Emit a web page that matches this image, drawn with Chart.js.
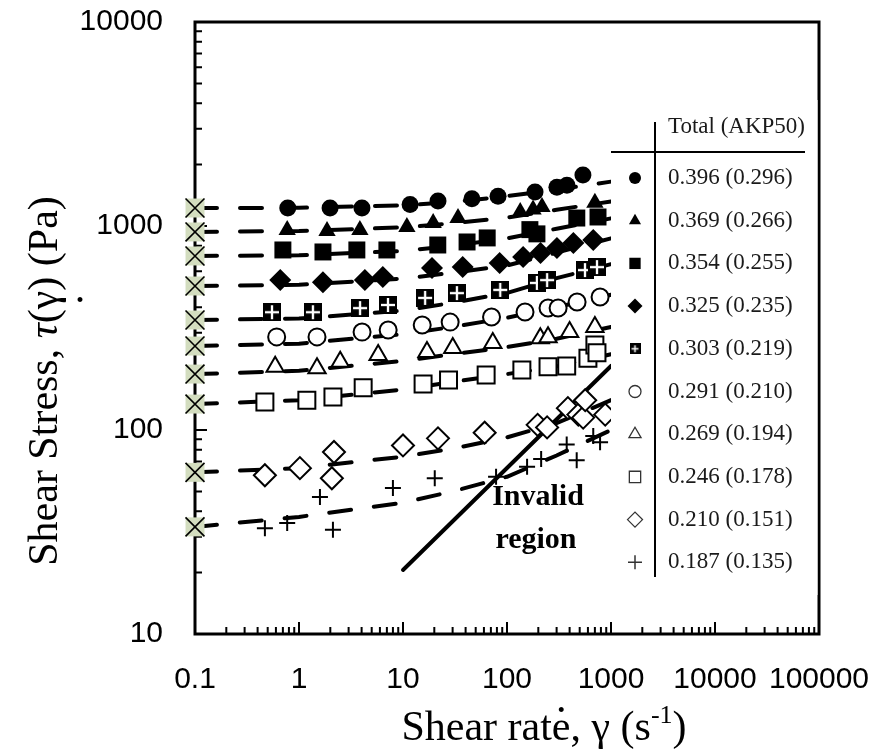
<!doctype html>
<html>
<head>
<title>Shear stress vs shear rate</title>
<script src="https://cdn.jsdelivr.net/npm/chart.js@4.4.0/dist/chart.umd.min.js"></script>
<style>
  html, body { margin: 0; padding: 0; background: #fff; }
</style>
</head>

<body>
<canvas id="chart" width="886" height="750"></canvas>

<script>
// axis ticks
const xTicks = [0.1, 1, 10, 100, 1000, 10000, 100000];
const yTicks = [10, 100, 1000, 10000];

// legend table text
const legendHeader = 'Total (AKP50)';
const seriesLabels = ['0.396 (0.296)', '0.369 (0.266)', '0.354 (0.255)', '0.325 (0.235)', '0.303 (0.219)',
                      '0.291 (0.210)', '0.269 (0.194)', '0.246 (0.178)', '0.210 (0.151)', '0.187 (0.135)'];

// yield stress of each suspension, plotted at the lowest shear rate
const zeroRate = 0.1;
const zeroShear = [1225, 935, 713, 508, 346, 258, 188, 134, 62, 33.5];

// measured points
const rate396 = [0.78, 1.99, 4.03, 11.7, 21.7, 46, 82, 186, 302, 377, 537];
const stress396 = [1225, 1225, 1225, 1275, 1325, 1360, 1400, 1468, 1549, 1585, 1778];
const rate369 = [0.77, 1.86, 3.85, 10.9, 19.5, 33.8, 134, 178, 217, 700];
const stress369 = [955, 945, 955, 988, 1035, 1095, 1172, 1205, 1240, 1300];
const rate354 = [0.70, 1.70, 3.6, 7.0, 21.6, 41.3, 64.5, 166, 194, 469, 750];
const stress354 = [763, 746, 763, 763, 807, 835, 874, 960, 915, 1094, 1107];
const rate325 = [0.66, 1.70, 4.3, 6.4, 19, 37.5, 85, 143, 210, 302, 435, 675];
const stress325 = [543, 530, 543, 562, 622, 630, 659, 705, 738, 780, 826, 853];
const rate303 = [0.55, 1.36, 3.86, 7.17, 16.3, 33, 86, 194, 243, 562, 733];
const stress303 = [378, 378, 396, 410, 444, 469, 486, 526, 543, 608, 629];
const rate291 = [0.61, 1.49, 4.04, 7.2, 15.3, 28.4, 71, 149, 248, 310, 472, 785];
const stress291 = [286, 286, 302, 309, 327, 338, 358, 379, 396, 396, 424, 449];
const rate269 = [0.59, 1.49, 2.49, 5.77, 17, 30.1, 73, 209, 248, 400, 700];
const stress269 = [204, 201, 216, 233, 241, 252, 267, 282, 285, 302, 320];
const rate246 = [0.47, 1.19, 2.12, 4.14, 15.6, 27.4, 63, 139, 248, 375, 600, 700, 733];
const stress246 = [137, 140, 145, 161, 168, 176, 186, 197, 204, 206, 225, 261, 239];
const rate210 = [0.47, 1.02, 2.17, 2.07, 10.0, 21.7, 61, 197, 243, 385, 485, 540, 565, 880];
const stress210 = [60, 65, 78, 58, 84, 91, 97, 106, 103, 128, 119, 115, 140, 119];
const rate187 = [0.47, 0.77, 1.59, 2.12, 8.0, 20.2, 78.5, 156, 213, 375, 468, 675, 785];
const stress187 = [33, 35, 47, 32.4, 52, 58, 59, 66, 72, 85, 71, 93.5, 87];

// model fits
const fitRate = [0.1, 1, 10, 30, 100, 300, 1000];
const fit396 = [1225, 1228, 1262, 1310, 1400, 1510, 1650];
const fit369 = [935, 945, 985, 1030, 1100, 1200, 1320];
const fit354 = [713, 718, 755, 800, 870, 970, 1090];
const fit325 = [508, 515, 552, 590, 640, 740, 870];
const fit303 = [346, 352, 385, 420, 470, 555, 650];
const fit291 = [258, 265, 295, 320, 355, 400, 460];
const fit269 = [188, 195, 218, 235, 255, 280, 320];
const fit246 = [134, 140, 158, 172, 188, 205, 235];
const fit210 = [62, 65, 74, 81, 92, 108, 140];
const fit187 = [33.5, 37.5, 44, 50, 59, 75, 100];

// limit of the measurement
const invalidRate = [10, 1000];
const invalidStress = [20.6, 206];

const series = [
    { rate: rate396, stress: stress396, fit: fit396 },
    { rate: rate369, stress: stress369, fit: fit369 },
    { rate: rate354, stress: stress354, fit: fit354 },
    { rate: rate325, stress: stress325, fit: fit325 },
    { rate: rate303, stress: stress303, fit: fit303 },
    { rate: rate291, stress: stress291, fit: fit291 },
    { rate: rate269, stress: stress269, fit: fit269 },
    { rate: rate246, stress: stress246, fit: fit246 },
    { rate: rate210, stress: stress210, fit: fit210 },
    { rate: rate187, stress: stress187, fit: fit187 }
];

// filled square split by a white cross
function gridSquare(size) {
    const c = document.createElement('canvas');
    c.width = size; c.height = size;
    const g = c.getContext('2d');
    g.fillStyle = '#000';
    g.fillRect(0, 0, size, size);
    g.fillStyle = '#fff';
    const w = Math.max(1.5, size * 0.13);
    g.fillRect(size / 2 - w / 2, 2, w, size - 4);
    g.fillRect(2, size / 2 - w / 2, size - 4, w);
    return c;
}

const markerStyles = [
    { pointStyle: 'circle', radius: 8.5, fill: '#000', border: 0 },
    { pointStyle: 'triangle', radius: 10, fill: '#000', border: 0 },
    { pointStyle: 'rect', radius: 12, fill: '#000', border: 0 },
    { pointStyle: 'rectRot', radius: 11, fill: '#000', border: 0 },
    { pointStyle: gridSquare(18), radius: 9, fill: '#000', border: 0 },
    { pointStyle: 'circle', radius: 8.5, fill: '#fff', border: 2 },
    { pointStyle: 'triangle', radius: 10, fill: '#fff', border: 2 },
    { pointStyle: 'rect', radius: 12, fill: '#fff', border: 2 },
    { pointStyle: 'rectRot', radius: 11, fill: '#fff', border: 2 },
    { pointStyle: 'cross', radius: 8, fill: '#fff', border: 2 }
];
const legendStyles = [
    { pointStyle: 'circle', radius: 6, border: 0 },
    { pointStyle: 'triangle', radius: 7, border: 0 },
    { pointStyle: 'rect', radius: 8, border: 0 },
    { pointStyle: 'rectRot', radius: 7.5, border: 0 },
    { pointStyle: gridSquare(11), radius: 6, border: 0 },
    { pointStyle: 'circle', radius: 6, border: 1.3 },
    { pointStyle: 'triangle', radius: 7, border: 1.3 },
    { pointStyle: 'rect', radius: 8, border: 1.3 },
    { pointStyle: 'rectRot', radius: 7.5, border: 1.3 },
    { pointStyle: 'cross', radius: 7, border: 1.5 }
];

const xy = (xs, ys) => xs.map((x, i) => ({ x: x, y: ys[i] }));

const datasets = [];
series.forEach((s, i) => {
    const m = markerStyles[i];
    datasets.push({
        label: seriesLabels[i],
        data: xy(s.rate, s.stress),
        pointStyle: m.pointStyle,
        pointRadius: m.radius,
        backgroundColor: m.fill,
        borderColor: '#000',
        borderWidth: m.border,
        showLine: false,
        order: 0
    });
    datasets.push({
        label: 'fit ' + seriesLabels[i],
        data: xy(fitRate, s.fit),
        showLine: true,
        pointRadius: 0,
        borderColor: '#000',
        borderWidth: 4,
        borderDash: [22, 23],
        borderCapStyle: 'round',
        order: 3
    });
});
datasets.push({
    label: 'invalid',
    data: xy(invalidRate, invalidStress),
    showLine: true,
    pointRadius: 0,
    borderColor: '#000',
    borderWidth: 4,
    borderCapStyle: 'round',
    order: 3
});
// yield stress markers: pale box with an X over it
datasets.push({
    label: 'yield box',
    data: zeroShear.map(v => ({ x: zeroRate, y: v })),
    pointStyle: 'rect',
    pointRadius: 13.4,
    backgroundColor: '#d3ddbf',
    borderWidth: 0,
    clip: false,
    order: 2
});
datasets.push({
    label: 'yield',
    data: zeroShear.map(v => ({ x: zeroRate, y: v })),
    pointStyle: 'crossRot',
    pointRadius: 13.4,
    borderColor: '#000',
    borderWidth: 1.6,
    clip: false,
    order: 1
});

// plot frame and inward log ticks
const frame = {
    id: 'frame',
    beforeDatasetsDraw(chart) {
        const { ctx, chartArea: a, scales: { x, y } } = chart;
        ctx.save();
        ctx.strokeStyle = '#000';
        ctx.lineWidth = 3;
        ctx.strokeRect(a.left, a.top, a.right - a.left, a.bottom - a.top);
        ctx.lineWidth = 2;
        ctx.beginPath();
        for (let d = -1; d < 5; d++) {
            for (let m = 1; m < 10; m++) {
                if (m === 1 && d === -1) continue;
                const px = x.getPixelForValue(m * Math.pow(10, d));
                const len = m === 1 ? 12 : 7;
                ctx.moveTo(px, a.bottom);
                ctx.lineTo(px, a.bottom - len);
            }
        }
        for (let d = 1; d < 4; d++) {
            for (let m = 1; m < 10; m++) {
                if (m === 1 && d === 1) continue;
                const py = y.getPixelForValue(m * Math.pow(10, d));
                const len = m === 1 ? 12 : 7;
                ctx.moveTo(a.left, py);
                ctx.lineTo(a.left + len, py);
            }
        }
        ctx.stroke();
        ctx.restore();
    }
};

// legend table in the upper right, annotation text
const table = {
    id: 'table',
    afterDatasetsDraw(chart) {
        const { ctx, chartArea: a, scales: { x } } = chart;
        const left = x.getPixelForValue(1000);
        ctx.save();
        ctx.fillStyle = '#fff';
        ctx.fillRect(left, 100, a.right - 1.5 - left, 495);

        ctx.strokeStyle = '#000';
        ctx.lineWidth = 2;
        ctx.beginPath();
        ctx.moveTo(left, 152); ctx.lineTo(805, 152);
        ctx.moveTo(655, 122); ctx.lineTo(655, 577);
        ctx.stroke();

        ctx.fillStyle = '#1a1a1a';
        ctx.font = '23px "Liberation Serif", "Times New Roman", serif';
        ctx.textBaseline = 'middle';
        ctx.textAlign = 'left';
        ctx.fillText(legendHeader, 668, 127);
        seriesLabels.forEach((t, i) => {
            const yy = 178 + i * 42.7;
            ctx.fillStyle = '#1a1a1a';
            ctx.fillText(t, 668, yy);
            const m = legendStyles[i];
            ctx.fillStyle = i < 5 ? '#000' : '#fff';
            ctx.strokeStyle = '#333';
            ctx.lineWidth = m.border;
            Chart.helpers.drawPoint(ctx, { pointStyle: m.pointStyle, radius: m.radius, borderWidth: m.border, rotation: 0 }, 635, yy);
        });

        ctx.fillStyle = '#000';
        ctx.font = 'bold 30px "Liberation Serif", "Times New Roman", serif';
        ctx.textAlign = 'center';
        ctx.fillText('Invalid', 538, 497);
        ctx.fillText('region', 536, 540);
        ctx.restore();
    }
};

// axis titles with italic tau, overdots and superscript
const titles = {
    id: 'titles',
    afterDraw(chart) {
        const ctx = chart.ctx;
        const serif = '"Liberation Serif", "Times New Roman", serif';
        const size = 42;
        ctx.save();
        ctx.fillStyle = '#000';
        ctx.textBaseline = 'alphabetic';
        ctx.textAlign = 'left';

        // y title, reading upward
        const parts = [['Shear Stress, ', ''], ['τ', 'italic '], ['(γ) (Pa)', '']];
        let total = 0;
        parts.forEach(p => { ctx.font = p[1] + size + 'px ' + serif; total += ctx.measureText(p[0]).width; });
        const bx = 57, cy = 381;
        ctx.save();
        ctx.translate(bx, cy + total / 2);
        ctx.rotate(-Math.PI / 2);
        let pos = 0;
        parts.forEach(p => {
            ctx.font = p[1] + size + 'px ' + serif;
            ctx.fillText(p[0], pos, 0);
            pos += ctx.measureText(p[0]).width;
        });
        ctx.restore();
        ctx.font = size + 'px ' + serif;
        ctx.textAlign = 'center';
        ctx.fillText('.', 80, 302);

        // x title
        ctx.textAlign = 'left';
        const main = 'Shear rate, γ (s';
        const sup = '-1';
        const base = 740;
        const supSize = Math.round(size * 0.62);
        ctx.font = size + 'px ' + serif;
        const wMain = ctx.measureText(main).width;
        const dotOff = ctx.measureText('Shear rat').width + ctx.measureText('e').width / 2;
        const wEnd = ctx.measureText(')').width;
        ctx.font = supSize + 'px ' + serif;
        const wSup = ctx.measureText(sup).width;
        const sx = 544 - (wMain + wSup + wEnd) / 2;
        ctx.font = size + 'px ' + serif;
        ctx.fillText(main, sx, base);
        ctx.fillText(')', sx + wMain + wSup, base);
        ctx.textAlign = 'center';
        ctx.fillText('.', sx + dotOff, base - 28);
        ctx.textAlign = 'left';
        ctx.font = supSize + 'px ' + serif;
        ctx.fillText(sup, sx + wMain, base - 17);
        ctx.restore();
    }
};

const tickFont = { family: '"Liberation Sans", Arial, sans-serif', size: 30 };

// keep the tick labels from pushing the plot area inward
function noScalePadding(s) {
    s.paddingLeft = 0; s.paddingRight = 0; s.paddingTop = 0; s.paddingBottom = 0;
}

new Chart(document.getElementById('chart'), {
    type: 'scatter',
    data: { datasets: datasets },
    options: {
        responsive: false,
        animation: false,
        layout: { autoPadding: false, padding: { top: 22, right: 67, left: 0, bottom: 0 } },
        plugins: { legend: { display: false }, tooltip: { enabled: false } },
        scales: {
            x: {
                type: 'logarithmic',
                min: 0.1,
                max: 100000,
                grid: { display: false },
                border: { display: false },
                afterBuildTicks: s => { s.ticks = xTicks.map(v => ({ value: v })); },
                afterFit: s => { s.height = 116; noScalePadding(s); },
                ticks: { color: '#000', font: tickFont, padding: 20, maxRotation: 0, autoSkip: false, callback: v => String(v) }
            },
            y: {
                type: 'logarithmic',
                min: 10,
                max: 10000,
                grid: { display: false },
                border: { display: false },
                afterBuildTicks: s => { s.ticks = yTicks.map(v => ({ value: v })); },
                afterFit: s => { s.width = 195; noScalePadding(s); },
                ticks: { color: '#000', font: tickFont, padding: 24, autoSkip: false, callback: v => String(v) }
            }
        }
    },
    plugins: [frame, table, titles]
});
</script>
</body>
</html>
